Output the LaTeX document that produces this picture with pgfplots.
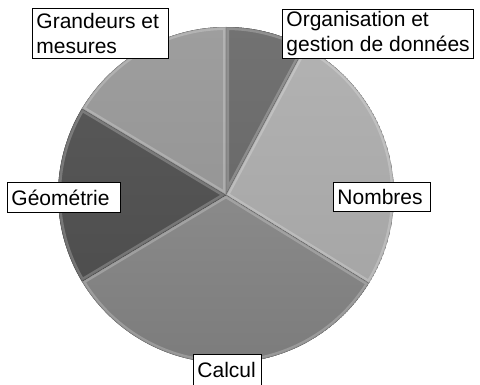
\documentclass[border=0pt]{standalone}
\usepackage{pgfplots}
\pgfplotsset{compat=1.18}
\usepackage{pgfplotstable}
\usepackage{fontspec}
\setmainfont{Liberation Sans}

\pgfplotstableread{
label value
Organisation 7.8
Nombres 26
Calcul 32.6
Geometrie 17.2
Grandeurs 16.4
}\piedata

\pgfplotstablegetelem{0}{value}\of\piedata \let\vA\pgfplotsretval
\pgfplotstablegetelem{1}{value}\of\piedata \let\vB\pgfplotsretval
\pgfplotstablegetelem{2}{value}\of\piedata \let\vC\pgfplotsretval
\pgfplotstablegetelem{3}{value}\of\piedata \let\vD\pgfplotsretval
\pgfplotstablegetelem{4}{value}\of\piedata \let\vE\pgfplotsretval
\pgfmathsetmacro{\aO}{90}
\pgfmathsetmacro{\aA}{\aO-3.6*\vA}
\pgfmathsetmacro{\aB}{\aA-3.6*\vB}
\pgfmathsetmacro{\aC}{\aB-3.6*\vC}
\pgfmathsetmacro{\aD}{\aC-3.6*\vD}
\pgfmathsetmacro{\aE}{\aD-3.6*\vE}

\definecolor{cOrgT}{HTML}{727272}\definecolor{cOrgB}{HTML}{6A6A6A}
\definecolor{cNomT}{HTML}{B2B2B2}\definecolor{cNomB}{HTML}{A6A6A6}
\definecolor{cCalT}{HTML}{8A8A8A}\definecolor{cCalB}{HTML}{7A7A7A}
\definecolor{cGeoT}{HTML}{575757}\definecolor{cGeoB}{HTML}{4E4E4E}
\definecolor{cGraT}{HTML}{9E9E9E}\definecolor{cGraB}{HTML}{969696}

\newcommand\slicepath[2]{(axis cs:226,190) -- ++(#1:168pt) arc[start angle=#1,end angle=#2,radius=168pt] -- cycle}
\newcommand\slice[4]{%
  \begin{scope}
  \clip \slicepath{#1}{#2};
  \fill[top color=#3,bottom color=#4] \slicepath{#1}{#2};
  \draw[white,opacity=0.22,line width=6pt] \slicepath{#1}{#2};
  \draw[black,opacity=0.15,line width=1.2pt] \slicepath{#1}{#2};
  \end{scope}}

\begin{document}
\begin{tikzpicture}
\useasboundingbox (0,0) rectangle (480pt,385pt);
\clip (0,0) rectangle (480pt,385pt);
\begin{axis}[at={(0,0)},anchor=south west,
  width=480pt,height=385pt,scale only axis,
  xmin=0,xmax=480,ymin=0,ymax=385,
  hide axis,clip=false]
\addplot[draw=none] coordinates {(0,0) (480,385)};
\slice{\aO}{\aA}{cOrgT}{cOrgB}
\slice{\aA}{\aB}{cNomT}{cNomB}
\slice{\aB}{\aC}{cCalT}{cCalB}
\slice{\aC}{\aD}{cGeoT}{cGeoB}
\slice{\aD}{\aE}{cGraT}{cGraB}
\tikzset{lab/.style={draw=black,line width=0.9pt,fill=white,align=left,
  font=\fontsize{21}{25}\selectfont,inner xsep=4pt,inner ysep=0pt,anchor=north west}}
% positions: left, top (image px, converted to y-up)
\node[lab,minimum height=50pt] at (axis cs:32,377) {\makebox[128pt][l]{Grandeurs et}\\mesures};
\node[lab,minimum height=49pt] at (axis cs:282,376) {Organisation et\\gestion de données};
\node[lab,minimum height=29pt] at (axis cs:333,203) {\makebox[89pt][l]{Nombres}};
\node[lab,minimum height=30pt] at (axis cs:7,203) {\makebox[105pt][l]{Géométrie}};
\node[lab,minimum height=32pt] at (axis cs:193,31) {\makebox[60pt][l]{Calcul}};
\end{axis}
\end{tikzpicture}
\end{document}
